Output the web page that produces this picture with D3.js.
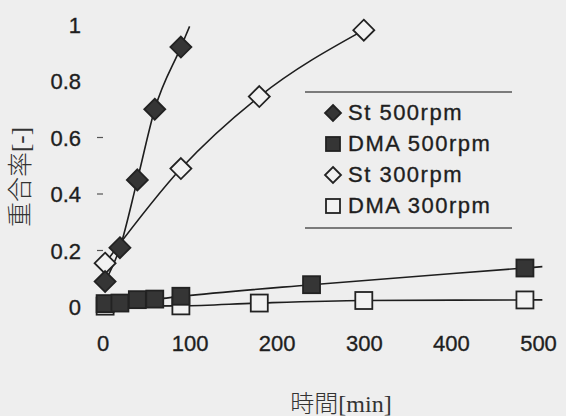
<!DOCTYPE html>
<html><head><meta charset="utf-8">
<script src="https://cdn.jsdelivr.net/npm/d3@7/dist/d3.min.js"></script>
<style>
html,body{margin:0;padding:0;background:#eeeeee;}
svg{display:block;}
</style></head>
<body>
<script>
// ---- data ----
const xTicks = [0, 100, 200, 300, 400, 500];
const yTicks = [0, 0.2, 0.4, 0.6, 0.8, 1];
const yTickLabels = ["0", "0.2", "0.4", "0.6", "0.8", "1"];
const seriesNames = ["St 500rpm", "DMA 500rpm", "St 300rpm", "DMA 300rpm"];
const seriesShapes = ["diamond", "square", "diamond", "square"];
const seriesFilled = [true, true, false, false];
const st500Time = [3, 20, 40, 60, 90];
const st500Conv = [0.09, 0.21, 0.45, 0.70, 0.92];
const dma500Time = [3, 20, 40, 60, 90, 240, 485];
const dma500Conv = [0.012, 0.014, 0.026, 0.028, 0.038, 0.079, 0.138];
const st300Time = [3, 90, 180, 300];
const st300Conv = [0.155, 0.49, 0.745, 0.98];
const dma300Time = [3, 90, 180, 300, 485];
const dma300Conv = [0.003, 0.004, 0.014, 0.023, 0.025];
const lineEndTime = [100, 505, 300, 505]; // fitted curve extent per series
const xTitle = "時間[min]";
const yTitle = "重合率[-]";

const seriesTime = [st500Time, dma500Time, st300Time, dma300Time];
const seriesConv = [st500Conv, dma500Conv, st300Conv, dma300Conv];

// ---- layout ----
const W = 566, H = 416;
const svg = d3.select("body").append("svg").attr("width", W).attr("height", H);
svg.append("rect").attr("width", W).attr("height", H).attr("fill", "#eeeeee");

const x = d3.scaleLinear().domain([0, 500]).range([102.5, 538]);
const y = d3.scaleLinear().domain([0, 1]).range([307, 24.5]);

const ink = "#1e1e1e";
const tickFont = "'Liberation Sans', Arial, sans-serif";

// y tick labels
const yAxis = d3.axisLeft(y).tickValues(yTicks).tickFormat((d, i) => yTickLabels[i]).tickSize(0).tickPadding(0);
const gy = svg.append("g").attr("transform", "translate(81,0)").call(yAxis);
gy.select(".domain").remove();
gy.selectAll("text").attr("font-family", tickFont).attr("font-size", 22).attr("fill", ink)
  .attr("stroke", ink).attr("stroke-width", 0.35).attr("dy", "0.36em");
// small y tick dashes
svg.append("g").selectAll("line").data(yTicks.filter(v => v > 0 && v < 0.8)).join("line")
  .attr("x1", 97).attr("x2", 103).attr("y1", d => y(d)).attr("y2", d => y(d))
  .attr("stroke", "#555").attr("stroke-width", 1.2);

// x tick labels
const xAxis = d3.axisBottom(x).tickValues(xTicks).tickFormat(d3.format("d")).tickSize(0).tickPadding(0);
const gx = svg.append("g").attr("transform", "translate(0,335)").call(xAxis);
gx.select(".domain").remove();
gx.selectAll("text").attr("font-family", tickFont).attr("font-size", 22).attr("fill", ink)
  .attr("stroke", ink).attr("stroke-width", 0.35).attr("dy", "0.72em");

// axis titles
svg.append("text").attr("x", 341).attr("y", 412).attr("text-anchor", "middle")
  .attr("font-family", "'Liberation Serif', 'Noto Sans CJK JP', serif").attr("font-weight", 300)
  .attr("font-size", 24).attr("fill", "#333")
  .text(xTitle);
svg.append("text").attr("transform", "translate(29,177) rotate(-90)").attr("text-anchor", "middle")
  .attr("font-family", "'Liberation Serif', 'Noto Sans CJK JP', serif").attr("font-weight", 300)
  .attr("font-size", 25).attr("fill", "#333")
  .text(yTitle);

// ---- lines ----
const lineGen = d3.line().x(d => x(d[0])).y(d => y(d[1])).curve(d3.curveMonotoneX);
function seriesPoints(i) {
  const t = seriesTime[i], v = seriesConv[i];
  const pts = t.map((tt, k) => [tt, v[k]]);
  const n = pts.length;
  const tEnd = lineEndTime[i];
  if (tEnd > t[n - 1]) {
    const slope = (v[n - 1] - v[n - 2]) / (t[n - 1] - t[n - 2]);
    pts.push([tEnd, v[n - 1] + slope * (tEnd - t[n - 1])]);
  }
  return pts;
}
const drawOrder = [3, 2, 1, 0];
drawOrder.forEach(i => {
  svg.append("path").datum(seriesPoints(i)).attr("d", lineGen)
    .attr("fill", "none").attr("stroke", ink).attr("stroke-width", 1.6);
});

// ---- markers ----
function marker(g, shape, filled, cx, cy, s) {
  const fill = filled ? "#353535" : "#f2f2f2";
  if (shape === "diamond") {
    const r = s / 2;
    g.append("path").attr("d", `M${cx},${cy - r}L${cx + r},${cy}L${cx},${cy + r}L${cx - r},${cy}Z`)
      .attr("fill", fill).attr("stroke", "#222").attr("stroke-width", 1.8);
  } else {
    const h = s / 2;
    g.append("rect").attr("x", cx - h).attr("y", cy - h).attr("width", s).attr("height", s)
      .attr("fill", fill).attr("stroke", "#222").attr("stroke-width", 1.8);
  }
}
const gm = svg.append("g");
drawOrder.forEach(i => {
  const size = seriesShapes[i] === "diamond" ? 21 : 17;
  seriesTime[i].forEach((t, k) => {
    marker(gm, seriesShapes[i], seriesFilled[i], x(t), y(seriesConv[i][k]), size);
  });
});

// ---- legend ----
const lg = svg.append("g");
lg.append("line").attr("x1", 305).attr("x2", 512).attr("y1", 92).attr("y2", 92).attr("stroke", "#555").attr("stroke-width", 1.5);
lg.append("line").attr("x1", 305).attr("x2", 512).attr("y1", 228).attr("y2", 228).attr("stroke", "#555").attr("stroke-width", 1.5);
seriesNames.forEach((name, i) => {
  const base = 120 + i * 31;
  const s = seriesShapes[i] === "diamond" ? 16 : 14;
  marker(lg, seriesShapes[i], seriesFilled[i], 333, base - 7, s);
  lg.append("text").attr("x", 348).attr("y", base)
    .attr("font-family", tickFont).attr("font-size", 22).attr("letter-spacing", 1.5)
    .attr("stroke", ink).attr("stroke-width", 0.35)
    .attr("fill", ink).text(name);
});
</script>
</body></html>
